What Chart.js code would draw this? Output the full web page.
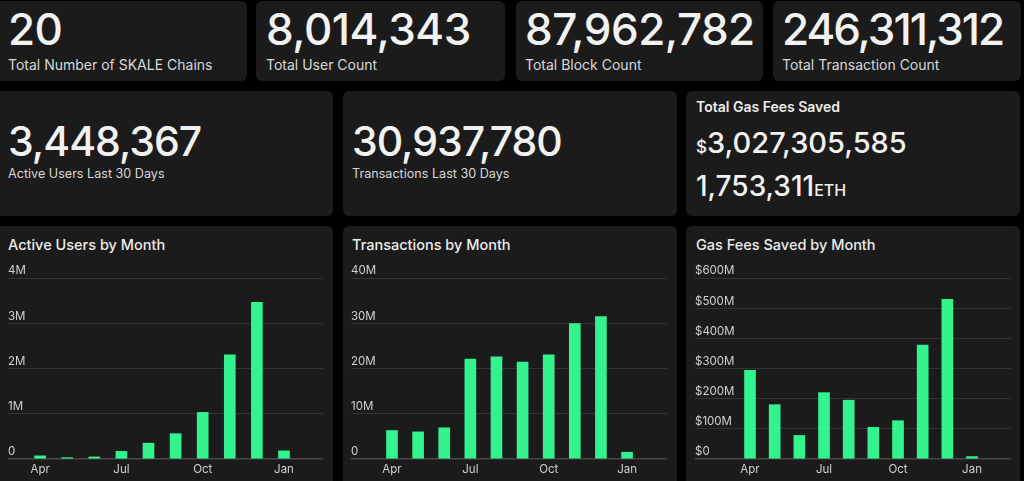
<!DOCTYPE html>
<html>
<head>
<meta charset="utf-8">
<script src="https://cdn.jsdelivr.net/npm/chart.js@4.4.1/dist/chart.umd.min.js"></script>
<style>
  html, body { margin: 0; padding: 0; background: #000; }
  body { width: 1024px; height: 481px; overflow: hidden; position: relative; font-family: Inter, "Noto Sans", sans-serif; }
  .card { position: absolute; background: #1b1b1b; border-radius: 6px; }
  .t { position: absolute; white-space: nowrap; line-height: 1; }
  .big { color: #f2f2f2; font-weight: 500; }
  .lbl { color: #d8d8d8; font-weight: 400; }
  .ttl { color: #ececec; font-weight: 600; }
  canvas { position: absolute; }
</style>
</head>
<body>
  <!-- Row 1 -->
  <div class="card" style="left:-8px;top:1px;width:255px;height:80px"></div>
  <div class="card" style="left:256px;top:1px;width:249px;height:80px"></div>
  <div class="card" style="left:516px;top:1px;width:247px;height:80px"></div>
  <div class="card" style="left:773px;top:1px;width:248px;height:80px"></div>
  <!-- Row 2 -->
  <div class="card" style="left:-8px;top:91px;width:341px;height:125px"></div>
  <div class="card" style="left:343px;top:91px;width:334px;height:125px"></div>
  <div class="card" style="left:686px;top:91px;width:334px;height:125px"></div>
  <!-- Row 3 -->
  <div class="card" style="left:-8px;top:226px;width:341px;height:270px"></div>
  <div class="card" style="left:343px;top:226px;width:334px;height:270px"></div>
  <div class="card" style="left:686px;top:226px;width:334px;height:270px"></div>

  <div class="t big" style="left:8px;top:7px;font-size:44px;letter-spacing:-0.5px">20</div>
  <div class="t lbl" style="left:8px;top:58px;font-size:14px">Total Number of SKALE Chains</div>
  <div class="t big" style="left:266px;top:7px;font-size:44px;letter-spacing:-0.5px">8,014,343</div>
  <div class="t lbl" style="left:266px;top:58px;font-size:14px">Total User Count</div>
  <div class="t big" style="left:525px;top:7px;font-size:44px;letter-spacing:-0.5px">87,962,782</div>
  <div class="t lbl" style="left:525px;top:58px;font-size:14px">Total Block Count</div>
  <div class="t big" style="left:782px;top:7px;font-size:44px;letter-spacing:-2px">246,311,312</div>
  <div class="t lbl" style="left:782px;top:58px;font-size:14px">Total Transaction Count</div>

  <div class="t big" style="left:8px;top:121px;font-size:41px;letter-spacing:-1px">3,448,367</div>
  <div class="t lbl" style="left:8px;top:168px;font-size:12.6px">Active Users Last 30 Days</div>
  <div class="t big" style="left:352px;top:121px;font-size:41px;letter-spacing:-1px">30,937,780</div>
  <div class="t lbl" style="left:352px;top:168px;font-size:12.6px">Transactions Last 30 Days</div>
  <div class="t ttl" style="left:696px;top:100px;font-size:14px">Total Gas Fees Saved</div>
  <div class="t big" style="left:696px;top:128px;font-size:29px"><span style="font-size:17px">$</span>3,027,305,585</div>
  <div class="t big" style="left:696px;top:172px;font-size:28px">1,753,311<span style="font-size:16px">ETH</span></div>

  <div class="t ttl" style="left:8px;top:238px;font-size:14.5px;font-weight:500">Active Users by Month</div>
  <div class="t ttl" style="left:352px;top:238px;font-size:14.5px;font-weight:500">Transactions by Month</div>
  <div class="t ttl" style="left:696px;top:238px;font-size:14.5px;font-weight:500">Gas Fees Saved by Month</div>

  <canvas id="c1" width="333" height="223" style="left:0px;top:258px"></canvas>
  <canvas id="c2" width="334" height="223" style="left:343px;top:258px"></canvas>
  <canvas id="c3" width="334" height="223" style="left:686px;top:258px"></canvas>

<script>
const months = ['Apr', 'May', 'Jun', 'Jul', 'Aug', 'Sep', 'Oct', 'Nov', 'Dec', 'Jan'];
const xTickLabels = ['Apr', 'Jul', 'Oct', 'Jan'];

const activeUsers = [70000, 30000, 45000, 170000, 350000, 560000, 1030000, 2300000, 3460000, 180000];
const transactions = [6300000, 6000000, 6900000, 22100000, 22600000, 21400000, 23000000, 29900000, 31500000, 1500000];
const gasFees = [294000000, 180000000, 78000000, 220000000, 195000000, 105000000, 127000000, 378000000, 529000000, 8000000];

const usersTicks = ['0', '1M', '2M', '3M', '4M'];
const txTicks = ['0', '10M', '20M', '30M', '40M'];
const gasTicks = ['$0', '$100M', '$200M', '$300M', '$400M', '$500M', '$600M'];

const BAR = '#33f38f';

function makeChart(id, values, yStep, yLabels, xMin, xMax, pad) {
  const yMax = yStep * (yLabels.length - 1);
  new Chart(document.getElementById(id), {
    type: 'bar',
    data: {
      datasets: [{
        data: values.map((v, i) => ({ x: i, y: v })),
        backgroundColor: BAR,
        borderWidth: 0,
        barThickness: 11
      }]
    },
    options: {
      responsive: false,
      animation: false,
      events: [],
      layout: { padding: pad },
      plugins: { legend: { display: false }, tooltip: { enabled: false } },
      scales: {
        x: {
          type: 'linear',
          offset: false,
          min: xMin,
          max: xMax,
          afterBuildTicks: (axis) => {
            axis.ticks = xTickLabels.map(l => ({ value: months.indexOf(l) }));
          },
          afterFit: (axis) => { axis.height = 22; },
          grid: { display: false, drawTicks: false },
          border: { display: false },
          ticks: {
            color: '#d0d0d0',
            font: { family: 'Inter', size: 11.5 },
            padding: 4,
            maxRotation: 0,
            autoSkip: false,
            callback: (v) => months[v]
          }
        },
        y: {
          min: 0,
          max: yMax,
          afterBuildTicks: (axis) => {
            axis.ticks = yLabels.map((l, i) => ({ value: i * yStep }));
          },
          grid: {
            drawTicks: false,
            color: (c) => (c.tick && c.tick.value === 0) ? '#474747' : '#333333',
            lineWidth: (c) => (c.tick && c.tick.value === 0) ? 1.5 : 1
          },
          border: { display: false },
          ticks: {
            mirror: true,
            padding: 0,
            labelOffset: -7,
            color: '#d0d0d0',
            font: { family: 'Inter', size: 11.5 },
            callback: (v) => yLabels[Math.round(v / yStep)]
          }
        }
      }
    }
  });
}

makeChart('c1', activeUsers, 1000000, usersTicks, -1.185, 10.44, { left: 8, right: 10, top: 20, bottom: 0 });
makeChart('c2', transactions, 10000000, txTicks, -1.57, 10.53, { left: 8, right: 10, top: 20, bottom: 0 });
makeChart('c3', gasFees, 100000000, gasTicks, -2.23, 10.58, { left: 9, right: 9, top: 20, bottom: 0 });
</script>
</body>
</html>
